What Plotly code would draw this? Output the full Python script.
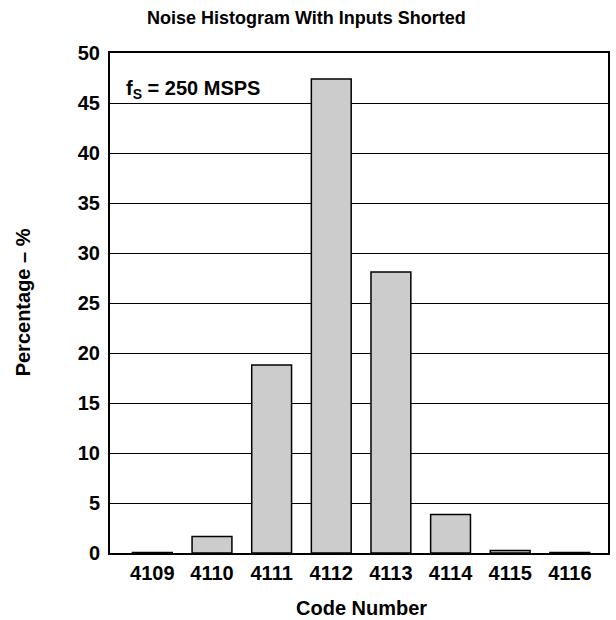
import plotly.graph_objects as go

codes = [4109, 4110, 4111, 4112, 4113, 4114, 4115, 4116]
code_labels = ["4109", "4110", "4111", "4112", "4113", "4114", "4115", "4116"]
percent = [0.05, 1.65, 18.8, 47.4, 28.1, 3.85, 0.25, 0.04]
y_ticks = [0, 5, 10, 15, 20, 25, 30, 35, 40, 45, 50]

font_family = "Liberation Sans, Arial, sans-serif"

fig = go.Figure()
fig.add_trace(go.Bar(
    x=codes, y=percent, width=0.668,
    marker=dict(color="#cccccc", line=dict(color="black", width=1.5)),
))

fig.update_layout(
    width=616, height=620,
    margin=dict(l=110, r=6, t=53, b=67),
    paper_bgcolor="white", plot_bgcolor="white",
    showlegend=False,
    font=dict(family=font_family, color="black"),
    xaxis=dict(range=[4108.29, 4116.64], tickmode="array", tickvals=codes,
               ticktext=["<b>%s</b>" % c for c in code_labels],
               tickfont=dict(size=20), showgrid=False, zeroline=False,
               showline=True, linecolor="black", linewidth=2, mirror=True,
               ticks="outside", ticklen=1, tickcolor="rgba(0,0,0,0)"),
    yaxis=dict(range=[0, 50], tickmode="array", tickvals=y_ticks,
               ticktext=["<b>%d</b>" % v for v in y_ticks],
               tickfont=dict(size=20), showgrid=True, gridcolor="black", gridwidth=1.3,
               zeroline=False, showline=True, linecolor="black", linewidth=2, mirror=True,
               ticks="outside", ticklen=4, tickcolor="rgba(0,0,0,0)"),
)

fig.add_annotation(
    text="<b>Noise Histogram With Inputs Shorted</b>", xref="paper", yref="paper",
    x=0.394, y=1.07, xanchor="center", yanchor="middle", showarrow=False,
    font=dict(size=18, family=font_family),
)
fig.add_annotation(
    text="<b>Code Number</b>", xref="paper", yref="paper",
    x=0.505, y=-0.109, xanchor="center", yanchor="middle", showarrow=False,
    font=dict(size=20, family=font_family),
)
fig.add_annotation(
    text="<b>Percentage – %</b>", xref="paper", yref="paper",
    x=-0.174, y=0.502, xanchor="center", yanchor="middle", showarrow=False,
    textangle=-90, font=dict(size=20, family=font_family),
)
fig.add_annotation(
    text="<b>f<sub>S</sub> = 250 MSPS</b>", xref="paper", yref="paper",
    x=0.028, y=0.926, xanchor="left", yanchor="middle", showarrow=False,
    font=dict(size=20, family=font_family),
)

fig.write_html("out.html", config={"displayModeBar": False},
               post_script="document.body.style.margin='0';document.body.style.overflow='hidden';")
